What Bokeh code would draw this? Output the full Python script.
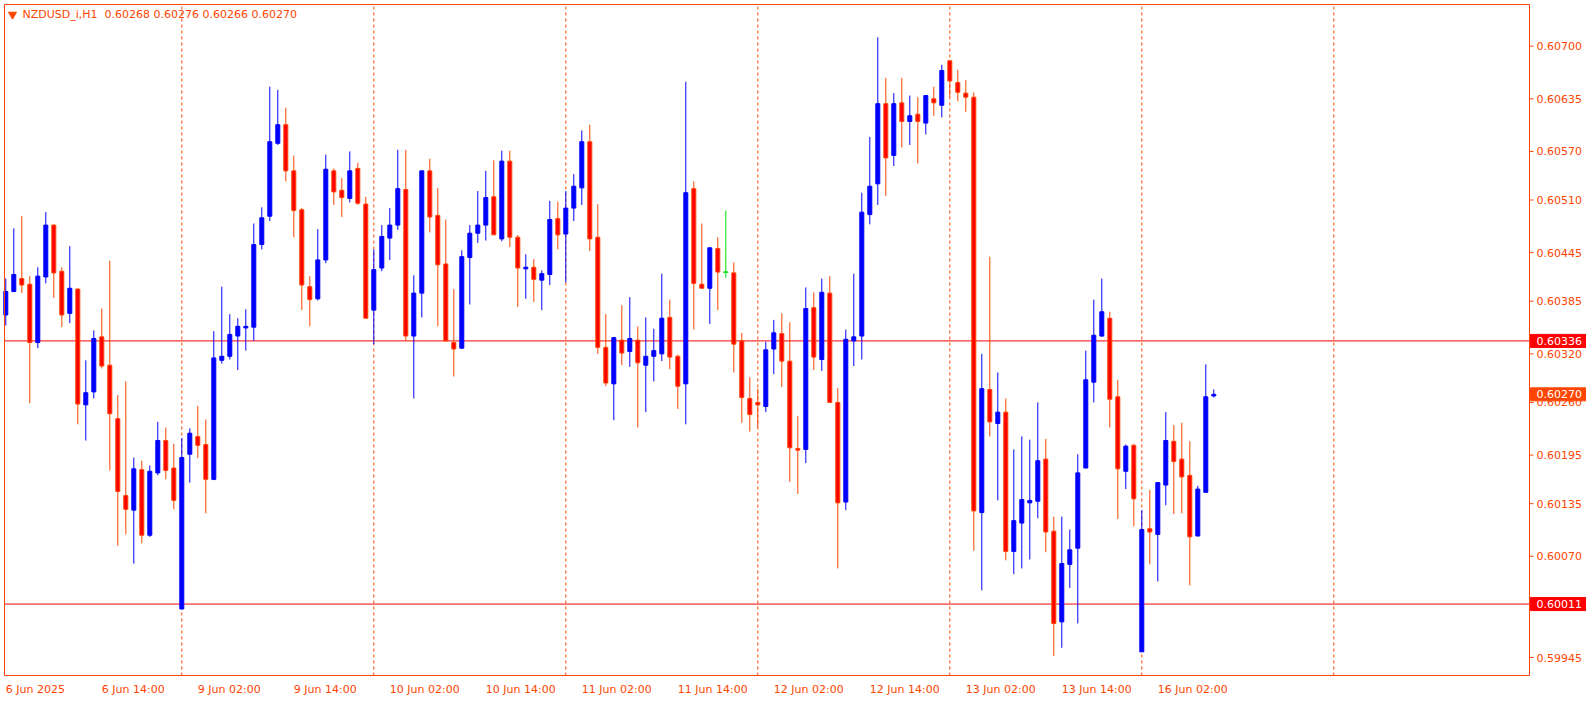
import pandas as pd
from bokeh.plotting import figure
from bokeh.models import Range1d, ColumnDataSource
from bokeh.core.properties import value
from bokeh.embed import file_html
from bokeh.resources import INLINE

symbol = "NZDUSD_i,H1"
first_bar = "2025-06-06 02:00"

open_ = [0.60368, 0.60397, 0.60413, 0.60406, 0.60334, 0.60415, 0.60479, 0.60422, 0.60370, 0.60400,
         0.60257, 0.60273, 0.60341, 0.60306, 0.60240, 0.60145, 0.60127, 0.60177, 0.60096, 0.60173,
         0.60213, 0.60179, 0.60005, 0.60196, 0.60218, 0.60208, 0.60165, 0.60312, 0.60317, 0.60342,
         0.60352, 0.60353, 0.60455, 0.60490, 0.60580, 0.60603, 0.60546, 0.60498, 0.60403, 0.60388,
         0.60436, 0.60546, 0.60522, 0.60512, 0.60549, 0.60505, 0.60374, 0.60426, 0.60463, 0.60479,
         0.60523, 0.60342, 0.60395, 0.60546, 0.60491, 0.60431, 0.60334, 0.60327, 0.60439, 0.60469,
         0.60479, 0.60514, 0.60462, 0.60558, 0.60464, 0.60425, 0.60427, 0.60411, 0.60418, 0.60487,
         0.60468, 0.60500, 0.60525, 0.60582, 0.60464, 0.60328, 0.60283, 0.60337, 0.60323, 0.60337,
         0.60306, 0.60317, 0.60320, 0.60365, 0.60317, 0.60283, 0.60524, 0.60406, 0.60401, 0.60450,
         0.60421, 0.60420, 0.60336, 0.60265, 0.60260, 0.60255, 0.60326, 0.60345, 0.60311, 0.60203,
         0.60202, 0.60377, 0.60313, 0.60395, 0.60260, 0.60137, 0.60336, 0.60342, 0.60492, 0.60530,
         0.60629, 0.60565, 0.60630, 0.60607, 0.60616, 0.60605, 0.60635, 0.60627, 0.60682, 0.60655,
         0.60642, 0.60637, 0.60124, 0.60276, 0.60234, 0.60248, 0.60076, 0.60111, 0.60136, 0.60138,
         0.60190, 0.60101, 0.59989, 0.60060, 0.60080, 0.60179, 0.60285, 0.60342, 0.60364, 0.60267,
         0.60175, 0.60207, 0.59952, 0.60104, 0.60097, 0.60158, 0.60212, 0.60190, 0.60170, 0.60095,
         0.60149, 0.60268]
high = [0.60413, 0.60475, 0.60490, 0.60416, 0.60427, 0.60495, 0.60480, 0.60427, 0.60453, 0.60401,
        0.60312, 0.60349, 0.60376, 0.60435, 0.60269, 0.60286, 0.60192, 0.60188, 0.60182, 0.60236,
        0.60229, 0.60209, 0.60216, 0.60228, 0.60256, 0.60239, 0.60348, 0.60403, 0.60369, 0.60364,
        0.60375, 0.60481, 0.60501, 0.60650, 0.60646, 0.60624, 0.60565, 0.60500, 0.60416, 0.60474,
        0.60566, 0.60549, 0.60537, 0.60570, 0.60556, 0.60514, 0.60449, 0.60479, 0.60500, 0.60572,
        0.60572, 0.60417, 0.60546, 0.60561, 0.60525, 0.60486, 0.60400, 0.60448, 0.60479, 0.60521,
        0.60546, 0.60559, 0.60571, 0.60571, 0.60467, 0.60443, 0.60437, 0.60423, 0.60509, 0.60508,
        0.60521, 0.60542, 0.60596, 0.60603, 0.60505, 0.60369, 0.60341, 0.60380, 0.60390, 0.60354,
        0.60365, 0.60351, 0.60419, 0.60387, 0.60319, 0.60656, 0.60533, 0.60481, 0.60451, 0.60464,
        0.60497, 0.60433, 0.60346, 0.60291, 0.60277, 0.60335, 0.60362, 0.60370, 0.60359, 0.60243,
        0.60402, 0.60396, 0.60413, 0.60416, 0.60278, 0.60350, 0.60419, 0.60519, 0.60588, 0.60711,
        0.60661, 0.60642, 0.60661, 0.60639, 0.60637, 0.60639, 0.60650, 0.60677, 0.60682, 0.60671,
        0.60658, 0.60643, 0.60320, 0.60440, 0.60297, 0.60265, 0.60202, 0.60218, 0.60214, 0.60260,
        0.60215, 0.60119, 0.60119, 0.60103, 0.60196, 0.60324, 0.60387, 0.60413, 0.60372, 0.60288,
        0.60208, 0.60209, 0.60127, 0.60152, 0.60161, 0.60248, 0.60232, 0.60235, 0.60212, 0.60157,
        0.60307, 0.60276]
low = [0.60355, 0.60396, 0.60395, 0.60259, 0.60327, 0.60407, 0.60389, 0.60353, 0.60358, 0.60233,
       0.60213, 0.60265, 0.60302, 0.60176, 0.60083, 0.60097, 0.60061, 0.60086, 0.60094, 0.60170,
       0.60165, 0.60128, 0.60004, 0.60161, 0.60191, 0.60123, 0.60164, 0.60308, 0.60313, 0.60300,
       0.60324, 0.60336, 0.60449, 0.60484, 0.60578, 0.60533, 0.60464, 0.60374, 0.60354, 0.60386,
       0.60432, 0.60504, 0.60489, 0.60507, 0.60504, 0.60364, 0.60332, 0.60422, 0.60436, 0.60473,
       0.60336, 0.60265, 0.60365, 0.60470, 0.60354, 0.60336, 0.60292, 0.60326, 0.60381, 0.60457,
       0.60460, 0.60467, 0.60459, 0.60452, 0.60378, 0.60388, 0.60384, 0.60374, 0.60405, 0.60449,
       0.60408, 0.60484, 0.60504, 0.60447, 0.60320, 0.60280, 0.60238, 0.60306, 0.60304, 0.60229,
       0.60248, 0.60286, 0.60311, 0.60301, 0.60252, 0.60233, 0.60350, 0.60401, 0.60357, 0.60374,
       0.60414, 0.60297, 0.60235, 0.60224, 0.60229, 0.60248, 0.60295, 0.60279, 0.60162, 0.60147,
       0.60185, 0.60300, 0.60299, 0.60260, 0.60055, 0.60127, 0.60305, 0.60313, 0.60480, 0.60504,
       0.60515, 0.60552, 0.60575, 0.60578, 0.60555, 0.60591, 0.60614, 0.60612, 0.60637, 0.60632,
       0.60619, 0.60077, 0.60028, 0.60218, 0.60139, 0.60065, 0.60048, 0.60055, 0.60066, 0.60117,
       0.60075, 0.59947, 0.59957, 0.60031, 0.59987, 0.60179, 0.60260, 0.60341, 0.60229, 0.60116,
       0.60153, 0.60107, 0.59952, 0.60060, 0.60039, 0.60133, 0.60122, 0.60123, 0.60034, 0.60095,
       0.60149, 0.60266]
close = [0.60397, 0.60418, 0.60405, 0.60334, 0.60416, 0.60479, 0.60420, 0.60368, 0.60401, 0.60258,
         0.60272, 0.60339, 0.60305, 0.60246, 0.60150, 0.60128, 0.60178, 0.60096, 0.60175, 0.60213,
         0.60176, 0.60139, 0.60192, 0.60222, 0.60207, 0.60165, 0.60315, 0.60317, 0.60344, 0.60354,
         0.60354, 0.60455, 0.60488, 0.60582, 0.60603, 0.60546, 0.60497, 0.60405, 0.60387, 0.60436,
         0.60548, 0.60520, 0.60513, 0.60546, 0.60506, 0.60364, 0.60424, 0.60465, 0.60479, 0.60524,
         0.60342, 0.60395, 0.60546, 0.60489, 0.60430, 0.60336, 0.60326, 0.60440, 0.60469, 0.60479,
         0.60513, 0.60467, 0.60558, 0.60464, 0.60426, 0.60427, 0.60412, 0.60419, 0.60486, 0.60467,
         0.60500, 0.60527, 0.60582, 0.60462, 0.60328, 0.60284, 0.60340, 0.60321, 0.60339, 0.60309,
         0.60317, 0.60324, 0.60364, 0.60316, 0.60280, 0.60519, 0.60407, 0.60401, 0.60451, 0.60421,
         0.60421, 0.60332, 0.60266, 0.60245, 0.60257, 0.60325, 0.60346, 0.60311, 0.60204, 0.60201,
         0.60376, 0.60316, 0.60396, 0.60260, 0.60136, 0.60338, 0.60341, 0.60495, 0.60527, 0.60629,
         0.60562, 0.60629, 0.60607, 0.60614, 0.60607, 0.60639, 0.60630, 0.60670, 0.60657, 0.60643,
         0.60637, 0.60126, 0.60277, 0.60236, 0.60248, 0.60076, 0.60114, 0.60140, 0.60139, 0.60188,
         0.60100, 0.59987, 0.60061, 0.60078, 0.60173, 0.60288, 0.60343, 0.60372, 0.60264, 0.60178,
         0.60206, 0.60141, 0.60103, 0.60100, 0.60161, 0.60213, 0.60187, 0.60168, 0.60094, 0.60153,
         0.60267, 0.60270]

price_ticks = [0.60700, 0.60635, 0.60570, 0.60510, 0.60445, 0.60385, 0.60320,
               0.60260, 0.60195, 0.60135, 0.60070, 0.59945]
level_lines = [0.60336, 0.60011]
bid_price = 0.60270

FONT = value("DejaVu Sans")
FS = value("11px")
ORANGE = "#FF4500"
RED = "#FF0000"
BLUE = "#0000FF"
GREEN = "#00E000"

# ---- bar times (weekend skipped)
times = []
t = pd.Timestamp(first_bar)
while len(times) < len(open_):
    if t.weekday() < 5:
        times.append(t)
    t += pd.Timedelta(hours=1)
n = len(open_)

# ---- layout: canvas pixel <-> data
W, H = 1586, 703
BAR_PX = 8.0          # pixels per bar
X_OFF = 5.3           # pixel x of bar 0
PX_Y = 0.00001235     # price per pixel
Y_TOP = 0.607564      # price at pixel row 0

def dx(px):
    return (px - X_OFF) / BAR_PX

def dy(py):
    return Y_TOP - py * PX_Y

FL, FR, FT, FB = dx(4), dx(1529), dy(4), dy(675)   # chart frame

p = figure(width=W, height=H, output_backend="svg", toolbar_location=None,
           x_range=Range1d(dx(0), dx(W)), y_range=Range1d(dy(H), dy(0)),
           x_axis_location=None, y_axis_location=None,
           min_border=0, background_fill_color="white", border_fill_color="white")
p.grid.visible = False
p.outline_line_color = None

# day separators (incl. next, empty day)
sep = [i for i, tt in enumerate(times) if tt.hour == 0 and i > 0]
last_day_start = sep[-1]
sep.append(last_day_start + 24)
p.segment(x0=sep, y0=[FB] * len(sep), x1=sep, y1=[FT] * len(sep),
          line_color=ORANGE, line_width=1, line_dash="3 3")

# horizontal levels
p.segment(x0=[FL] * 2, y0=level_lines, x1=[FR] * 2, y1=level_lines, line_color=RED, line_width=1)

# ---- candles
def sel(cond):
    d = dict(x=[], o=[], h=[], l=[], c=[], top=[], bot=[])
    for i in range(n):
        if cond(open_[i], close[i]):
            d["x"].append(i); d["o"].append(open_[i]); d["h"].append(high[i])
            d["l"].append(low[i]); d["c"].append(close[i])
            d["top"].append(max(open_[i], close[i])); d["bot"].append(min(open_[i], close[i]))
    return ColumnDataSource(d)

src_bull = sel(lambda o, c: c > o)
src_bear = sel(lambda o, c: c < o)
src_doji = sel(lambda o, c: c == o)

p.segment(x0="x", y0="l", x1="x", y1="h", source=src_bull, line_color=BLUE, line_width=1)
p.segment(x0="x", y0="l", x1="x", y1="h", source=src_bear, line_color=ORANGE, line_width=1)
p.segment(x0="x", y0="l", x1="x", y1="h", source=src_doji, line_color=GREEN, line_width=1)
p.vbar(x="x", top="top", bottom="bot", width=0.5, source=src_bull,
       fill_color=BLUE, line_color=BLUE, line_width=1)
p.vbar(x="x", top="top", bottom="bot", width=0.5, source=src_bear,
       fill_color=RED, line_color=ORANGE, line_width=1)
p.rect(x="x", y="o", width=0.6, height=PX_Y * 0.1, source=src_doji,
       line_color=GREEN, fill_color=GREEN)

# ---- chart frame
p.quad(left=[FL], right=[FR], top=[FT], bottom=[FB], fill_color=None,
       line_color=ORANGE, line_width=1)

# ---- title
p.scatter(x=[dx(12)], y=[dy(14)], marker="inverted_triangle", size=8,
          fill_color=ORANGE, line_color=ORANGE)
title = f"{symbol}\u00a0\u00a0{open_[-1]:.5f} {high[-1]:.5f} {low[-1]:.5f} {close[-1]:.5f}"
p.text(x=[dx(22)], y=[dy(14)], text=[title], text_font=FONT, text_font_size=FS,
       text_color=ORANGE, text_baseline="middle", text_align="left")

# ---- right price scale
p.segment(x0=[FR] * len(price_ticks), y0=price_ticks, x1=[dx(1533)] * len(price_ticks),
          y1=price_ticks, line_color=ORANGE)
p.text(x=[dx(1536)] * len(price_ticks), y=price_ticks, text=[f"{v:.5f}" for v in price_ticks],
       text_font=FONT, text_font_size=FS, text_color=ORANGE,
       text_baseline="middle", text_align="left")

tags = [level_lines[0], bid_price, level_lines[1]]
tag_cols = [RED, ORANGE, RED]
p.quad(left=[dx(1530)] * 3, right=[dx(W)] * 3,
       top=[v + 6.5 * PX_Y for v in tags], bottom=[v - 6.5 * PX_Y for v in tags],
       fill_color=tag_cols, line_color=tag_cols)
p.text(x=[dx(1536)] * 3, y=tags, text=[f"{v:.5f}" for v in tags],
       text_font=FONT, text_font_size=FS, text_color="white",
       text_baseline="middle", text_align="left")

# ---- time scale
lab_i = list(range(0, n, 12))
lab_t = []
for i in lab_i:
    tt = times[i]
    if i == 0:
        lab_t.append(f"{tt.day} {tt.strftime('%b')} {tt.year}")
    else:
        lab_t.append(f"{tt.day} {tt.strftime('%b')} {tt.strftime('%H:%M')}")
p.text(x=lab_i, y=[dy(689)] * len(lab_i), text=lab_t, text_font=FONT, text_font_size=FS,
       text_color=ORANGE, text_baseline="middle", text_align="left")

open("out.html", "w").write(file_html(p, INLINE))
